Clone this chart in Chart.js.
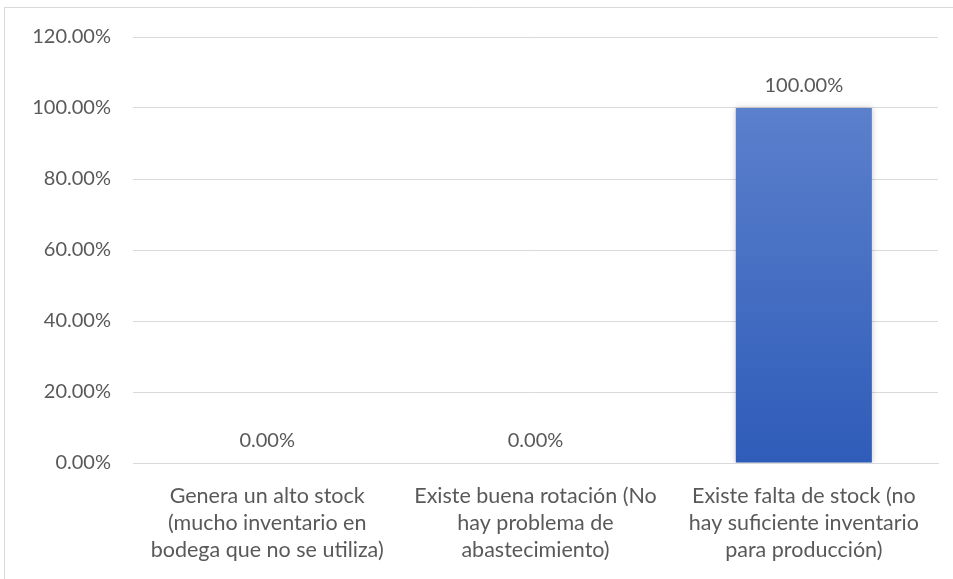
<!DOCTYPE html>
<html><head><meta charset="utf-8">
<script src="https://cdn.jsdelivr.net/npm/chart.js@4/dist/chart.umd.min.js"></script>
<style>html,body{margin:0;padding:0;background:#fff;}canvas{display:block;}</style>
</head><body>
<canvas id="c" width="953" height="579"></canvas>
<script>
const categories = [
  ["Genera un alto stock", "(mucho inventario en", "bodega que no se utiliza)"],
  ["Existe buena rotación (No", "hay problema de", "abastecimiento)"],
  ["Existe falta de stock (no", "hay suficiente inventario", "para producción)"]
];
const values = [0, 0, 100];
const yTicks = [0, 20, 40, 60, 80, 100, 120];

const FONT = "Lato, 'Liberation Sans', sans-serif";
const TXT = "#595959";

const frame = {
  id: 'frame',
  beforeDraw(chart) {
    const ctx = chart.ctx;
    ctx.save();
    ctx.fillStyle = '#fff';
    ctx.fillRect(0, 0, chart.width, chart.height);
    ctx.strokeStyle = '#d9d9d9';
    ctx.lineWidth = 1;
    ctx.beginPath();
    ctx.moveTo(4.5, 579);
    ctx.lineTo(4.5, 7.5);
    ctx.lineTo(953, 7.5);
    ctx.stroke();
    ctx.restore();
  }
};

const shadow = {
  id: 'shadow',
  beforeDatasetDraw(chart) {
    const ctx = chart.ctx;
    ctx.save();
    ctx.shadowColor = 'rgba(0,0,0,0.22)';
    ctx.shadowBlur = 6;
    ctx.shadowOffsetX = 0;
    ctx.shadowOffsetY = 0;
  },
  afterDatasetDraw(chart) { chart.ctx.restore(); }
};

const labels = {
  id: 'labels',
  afterDatasetsDraw(chart) {
    const ctx = chart.ctx;
    const meta = chart.getDatasetMeta(0);
    ctx.save();
    ctx.font = "20px " + FONT;
    ctx.fillStyle = TXT;
    ctx.textAlign = 'center';
    ctx.textBaseline = 'middle';
    meta.data.forEach((bar, i) => {
      const v = values[i];
      ctx.fillText(v.toFixed(2) + '%', bar.x, bar.y - 22);
    });
    ctx.restore();
  }
};

new Chart(document.getElementById('c'), {
  type: 'bar',
  data: {
    labels: categories,
    datasets: [{
      data: values,
      backgroundColor(context) {
        const ch = context.chart;
        const area = ch.chartArea;
        if (!area) return '#4472c4';
        const y = ch.scales.y;
        const g = ch.ctx.createLinearGradient(0, y.getPixelForValue(100), 0, y.getPixelForValue(0));
        g.addColorStop(0, '#5b80cc');
        g.addColorStop(1, '#2f5cb9');
        return g;
      },
      borderWidth: 0,
      categoryPercentage: 1,
      barPercentage: 0.507
    }]
  },
  options: {
    responsive: false,
    animation: false,
    devicePixelRatio: 1,
    layout: { padding: { top: 37, right: 15, left: 0, bottom: 0 } },
    plugins: { legend: { display: false }, tooltip: { enabled: false } },
    scales: {
      y: {
        min: 0, max: 120,
        afterFit(s) { s.width = 133; },
        afterBuildTicks(s) { s.ticks = yTicks.map(v => ({ value: v })); },
        ticks: {
          color: TXT, font: { family: FONT, size: 20 }, padding: 22,
          callback: v => Number(v).toFixed(2) + '%'
        },
        grid: { color: '#d9d9d9', lineWidth: 1, drawTicks: false },
        border: { display: false }
      },
      x: {
        afterFit(s) { s.height = 116; },
        ticks: { color: TXT, font: { family: FONT, size: 21.5, lineHeight: '27px' }, padding: 12, maxRotation: 0, autoSkip: false },
        grid: { display: false },
        border: { color: '#d9d9d9' }
      }
    }
  },
  plugins: [frame, shadow, labels]
});
</script>
</body></html>
